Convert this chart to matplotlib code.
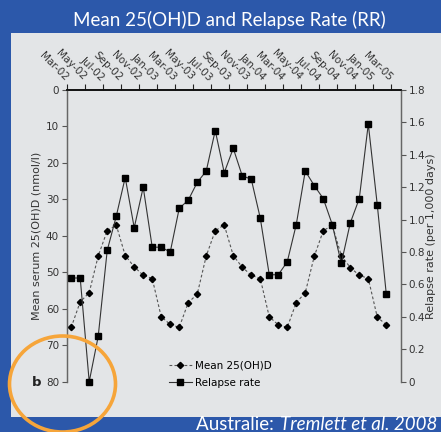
import matplotlib
matplotlib.use("Agg")
import matplotlib.pyplot as plt
import matplotlib.patches as patches
from matplotlib.lines import Line2D

# tick labels along the top, every 2 months
month_labels = ["Mar-02", "May-02", "Jul-02", "Sep-02", "Nov-02", "Jan-03", "Mar-03",
                "May-03", "Jul-03", "Sep-03", "Nov-03", "Jan-04", "Mar-04", "May-04",
                "Jul-04", "Sep-04", "Nov-04", "Jan-05", "Mar-05"]

# monthly values, Mar-02 .. Feb-05
vitd = [65.1, 58.1, 55.6, 45.5, 38.6, 37.0, 45.4, 48.5, 50.8, 51.7, 62.2, 64.3,
        65.1, 58.3, 56.0, 45.5, 38.6, 37.0, 45.4, 48.6, 50.8, 51.7, 62.2, 64.4,
        65.1, 58.3, 55.6, 45.6, 38.6, 37.1, 45.4, 48.7, 50.8, 51.7, 62.3, 64.4]
relapse = [0.64, 0.64, 0.00, 0.28, 0.81, 1.02, 1.26, 0.95, 1.20, 0.83, 0.83, 0.80,
           1.07, 1.12, 1.23, 1.30, 1.55, 1.29, 1.44, 1.27, 1.25, 1.01, 0.66, 0.66,
           0.74, 0.97, 1.30, 1.21, 1.13, 0.97, 0.73, 0.98, 1.13, 1.59, 1.09, 0.54]

left_ticks = [0, 10, 20, 30, 40, 50, 60, 70, 80]
right_ticks = [0, 0.2, 0.4, 0.6, 0.8, 1.0, 1.2, 1.4, 1.6, 1.8]
right_labels = ["0", "0.2", "0.4", "0.6", "0.8", "1.0", "1.2", "1.4", "1.6", "1.8"]

blue = "#2C58AA"
panel = "#E3E5E7"
font = ["Liberation Sans Narrow", "DejaVu Sans"]
W, H = 441, 432

fig = plt.figure(figsize=(W / 100, H / 100), dpi=100, facecolor=blue)
fig.patches.append(patches.Rectangle((11 / W, (H - 416.7) / H), 1, (416.7 - 33) / H,
                                     transform=fig.transFigure, facecolor=panel,
                                     edgecolor="none", zorder=-5))

ax = fig.add_axes([66.7 / W, (H - 381.7) / H, 334 / W, 291.7 / H])
ax.set_facecolor("none")
ax2 = ax.twinx()
ax2.set_facecolor("none")

x = [i + 0.5 for i in range(len(vitd))]
ax.plot(x, vitd, color="#555555", lw=0.8, ls=(0, (2.5, 2)), marker="D",
        markersize=3.2, markerfacecolor="black", markeredgecolor="black", clip_on=False)
ax2.plot(x, relapse, color="#333333", lw=0.8, marker="s", markersize=4.6,
         markerfacecolor="black", markeredgecolor="black", clip_on=False)

ax.set_xlim(0, 37.1)
ax.set_ylim(80, 0)
ax2.set_ylim(0, 1.8)

ax.xaxis.tick_top()
ax.set_xticks(range(0, 37, 2))
ax.set_xticklabels(month_labels, rotation=-45, ha="right", va="center",
                   rotation_mode="anchor", family=font, fontsize=7.5, color="#333333")
ax.tick_params(axis="x", direction="out", length=4, width=0.8, pad=4, color="#222222")
ax.set_yticks(left_ticks)
ax.set_yticklabels([str(t) for t in left_ticks], family=font, fontsize=7.5, color="#333333")
ax.tick_params(axis="y", direction="out", length=3.5, width=0.8, pad=2, color="#555555")
ax2.set_yticks(right_ticks)
ax2.set_yticklabels(right_labels, family=font, fontsize=7.5, color="#333333")
ax2.tick_params(axis="y", direction="out", length=3.5, width=0.8, pad=2, color="#555555")

for a in (ax, ax2):
    a.spines["bottom"].set_visible(False)
    a.spines["top"].set_color("#111111")
    a.spines["top"].set_linewidth(1.2)
    a.spines["left"].set_color("#666666")
    a.spines["right"].set_color("#666666")
    a.spines["left"].set_linewidth(0.9)
    a.spines["right"].set_linewidth(0.9)

fig.text(37 / W, 1 - 236 / H, "Mean serum 25(OH)D (nmol/l)", rotation=90, ha="center",
         va="center", family=font, fontsize=8, color="#333333")
fig.text(431 / W, 1 - 236 / H, "Relapse rate (per 1,000 days)", rotation=90, ha="center",
         va="center", family=font, fontsize=8, color="#333333")
fig.text(37 / W, 1 - 382 / H, "b", ha="center", va="center", family=font,
         fontsize=9.5, fontweight="bold", color="#222222")

handles = [Line2D([], [], color="#555555", lw=0.8, ls=(0, (2.5, 2)), marker="D",
                  markersize=3.2, markerfacecolor="black", markeredgecolor="black"),
           Line2D([], [], color="#333333", lw=0.8, marker="s", markersize=4.6,
                  markerfacecolor="black", markeredgecolor="black")]
fig.legend(handles, ["Mean 25(OH)D", "Relapse rate"], loc="upper left",
           bbox_to_anchor=(169 / W, 1 - 361 / H), frameon=False, borderpad=0,
           borderaxespad=0, handlelength=2.2, handletextpad=0.3, labelspacing=0.65,
           prop={"family": font, "size": 7.5})

# title bar and source note
fig.text(229 / W, 1 - 20 / H, "Mean 25(OH)D and Relapse Rate (RR)", ha="center",
         va="center", family="Lato", fontsize=13.5, color="white")
src = fig.text(437 / W, 1 - 424 / H, "Tremlett et al. 2008", ha="right", va="center",
               family="Lato", style="italic", fontsize=13.5, color="white")
fig.canvas.draw()
bb = src.get_window_extent(fig.canvas.get_renderer())
fig.text((bb.x0 - 1) / W, 1 - 424 / H, "Australie: ", ha="right", va="center",
         family="Lato", fontsize=13.5, color="white")

# orange circle around the panel letter
fig.patches.append(patches.Ellipse((62.5 / W, 1 - 384 / H), 106 / W, 96 / H,
                                   transform=fig.transFigure, facecolor="none",
                                   edgecolor="#F6A53A", lw=2.6, zorder=5))

fig.savefig("out.png", dpi=100, facecolor=blue)
